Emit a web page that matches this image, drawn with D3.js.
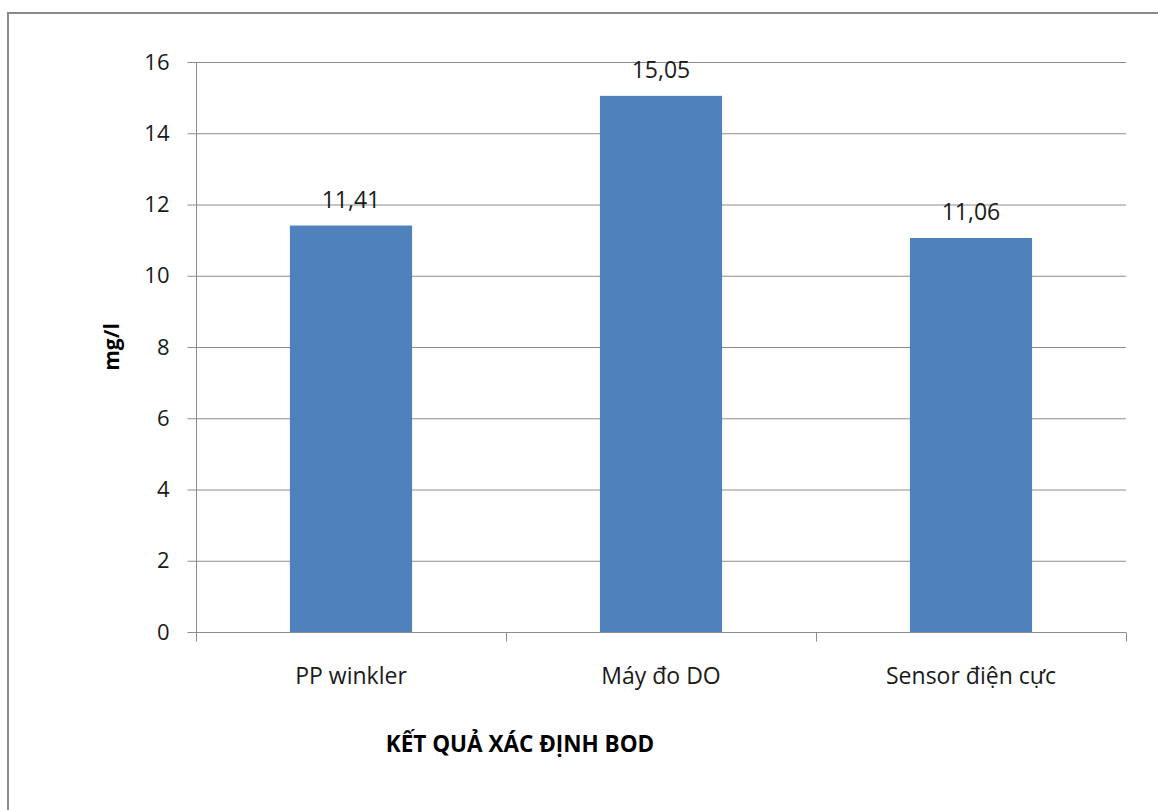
<!DOCTYPE html>
<html><head><meta charset="utf-8">
<script src="https://cdn.jsdelivr.net/npm/d3@7"></script>
<style>
html,body{margin:0;padding:0;background:#fff;}
svg{display:block;font-family:"Open Sans",Lato,sans-serif;}
</style></head>
<body>
<svg id="c" width="1158" height="810"></svg>
<script>
const categories = ["PP winkler", "Máy đo DO", "Sensor điện cực"];
const values = [11.41, 15.05, 11.06];
const valueLabels = ["11,41", "15,05", "11,06"];
const yTicks = [0, 2, 4, 6, 8, 10, 12, 14, 16];
const yTitle = "mg/l";
const xTitle = "KẾT QUẢ XÁC ĐỊNH BOD";

const svg = d3.select("#c");
// outer frame
svg.append("rect").attr("x", 8).attr("y", 13).attr("width", 1170).attr("height", 820)
  .attr("fill", "#fff").attr("stroke", "#8a8a8a").attr("stroke-width", 2);

const m = {left: 196, right: 1126, top: 62, bottom: 632};
const x = d3.scaleBand().domain(categories).range([m.left, m.right]).paddingInner(0.606).paddingOuter(0.303);
const xb = d3.scaleBand().domain(categories).range([m.left, m.right]);
const y = d3.scaleLinear().domain([0, 16]).range([m.bottom, m.top]);

// gridlines
svg.append("g").selectAll("line").data(yTicks.filter(t => t > 0)).join("line")
  .attr("x1", m.left).attr("x2", m.right)
  .attr("y1", d => y(d) + 0.5).attr("y2", d => y(d) + 0.5)
  .attr("stroke", "#8c8c8c").attr("stroke-width", 1);

// bars
svg.append("g").selectAll("rect").data(values).join("rect")
  .attr("x", (d, i) => x(categories[i])).attr("width", x.bandwidth())
  .attr("y", d => y(d)).attr("height", d => y(0) - y(d))
  .attr("fill", "#4f81bd");

// y axis
const yAxis = d3.axisLeft(y).tickValues(yTicks).tickSize(9).tickPadding(18).tickFormat(d3.format("d"));
const gy = svg.append("g").attr("transform", `translate(${m.left + 0.5},0)`).call(yAxis);
gy.select(".domain").attr("stroke", "#8c8c8c").attr("d", `M0,${m.top}V${m.bottom}`);
gy.selectAll(".tick line").attr("stroke", "#8c8c8c");
gy.selectAll(".tick text").attr("font-size", 22).attr("fill", "#1a1a1a").attr("font-family", "Open Sans");

// x axis
const gx = svg.append("g").attr("transform", `translate(0,${m.bottom + 0.5})`);
gx.append("line").attr("x1", m.left).attr("x2", m.right).attr("stroke", "#8c8c8c");
const xTickPos = categories.map(c => xb(c)).concat([m.right]);
gx.selectAll("line.t").data(xTickPos).join("line").attr("class", "t")
  .attr("x1", d => Math.round(d) + 0.5).attr("x2", d => Math.round(d) + 0.5)
  .attr("y1", 0).attr("y2", 9).attr("stroke", "#8c8c8c");
gx.selectAll("text").data(categories).join("text")
  .attr("x", d => xb(d) + xb.bandwidth() / 2).attr("y", 51)
  .attr("text-anchor", "middle").attr("font-size", 23).attr("fill", "#1a1a1a")
  .text(d => d);

// value labels
svg.append("g").selectAll("text").data(values).join("text")
  .attr("x", (d, i) => x(categories[i]) + x.bandwidth() / 2)
  .attr("y", d => y(d) - 18)
  .attr("text-anchor", "middle").attr("font-size", 23).attr("fill", "#1a1a1a")
  .text((d, i) => valueLabels[i]);

// titles
svg.append("text").attr("transform", `translate(119,${(m.top + m.bottom) / 2}) rotate(-90)`)
  .attr("text-anchor", "middle").attr("font-size", 21).attr("font-weight", "bold").attr("fill", "#000")
  .text(yTitle);
svg.append("text").attr("x", 520).attr("y", 752).attr("text-anchor", "middle")
  .attr("font-size", 22.5).attr("font-weight", "bold").attr("fill", "#000").text(xTitle);
</script>
</body></html>
